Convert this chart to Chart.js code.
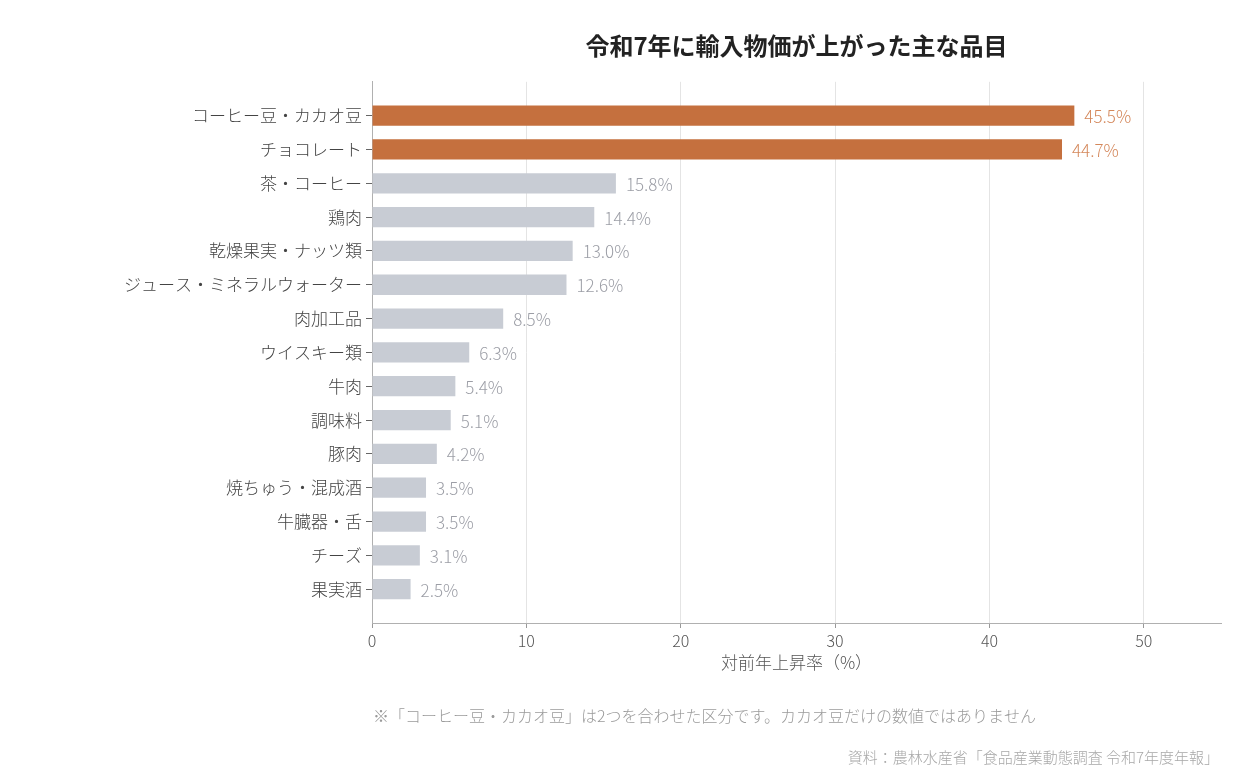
<!DOCTYPE html>
<html lang="ja">
<head>
<meta charset="utf-8">
<script src="https://cdn.jsdelivr.net/npm/chart.js@4"></script>
<style>
  html,body{margin:0;padding:0;background:#fff;}
  #wrap{width:1240px;height:780px;position:relative;}
</style>
</head>
<body>
<div id="wrap"><canvas id="c" width="1240" height="780"></canvas></div>
<script>
// ---- data ----
const categories = [
  'コーヒー豆・カカオ豆','チョコレート','茶・コーヒー','鶏肉','乾燥果実・ナッツ類',
  'ジュース・ミネラルウォーター','肉加工品','ウイスキー類','牛肉','調味料',
  '豚肉','焼ちゅう・混成酒','牛臓器・舌','チーズ','果実酒'
];
const values = [45.5, 44.7, 15.8, 14.4, 13.0, 12.6, 8.5, 6.3, 5.4, 5.1, 4.2, 3.5, 3.5, 3.1, 2.5];
const highlighted = [true, true, false, false, false, false, false, false, false, false, false, false, false, false, false];
const xTicks = [0, 10, 20, 30, 40, 50];
const titleText = '令和7年に輸入物価が上がった主な品目';
const xAxisTitle = '対前年上昇率（%）';
const noteText = '※「コーヒー豆・カカオ豆」は2つを合わせた区分です。カカオ豆だけの数値ではありません';
const sourceText = '資料：農林水産省「食品産業動態調査 令和7年度年報」';

// ---- styles ----
const FONT = "'Noto Sans CJK JP','Noto Sans',sans-serif";
const ORANGE = '#c5703e';
const GRAY = '#c8ccd4';
const ORANGE_LABEL = '#d4875a';
const GRAY_LABEL = '#9c9ea6';

// pad the category axis with a blank slot at each end (matches the reference's axis margins)
const labels = [''].concat(categories, ['']);
const data = [null].concat(values, [null]);
const colors = [GRAY].concat(highlighted.map(h => h ? ORANGE : GRAY), [GRAY]);
const labelColors = [GRAY_LABEL].concat(highlighted.map(h => h ? ORANGE_LABEL : GRAY_LABEL), [GRAY_LABEL]);

const valueLabels = {
  id: 'valueLabels',
  afterDatasetsDraw(chart) {
    const ctx = chart.ctx;
    const meta = chart.getDatasetMeta(0);
    ctx.save();
    ctx.font = "300 17px " + FONT;
    ctx.textAlign = 'left';
    ctx.textBaseline = 'middle';
    meta.data.forEach((el, i) => {
      const v = data[i];
      if (v === null || v === undefined) return;
      ctx.fillStyle = labelColors[i];
      ctx.fillText(v.toFixed(1) + '%', el.x + 10, el.y + 1);
    });
    ctx.restore();
  }
};

const notes = {
  id: 'notes',
  afterDraw(chart) {
    const ctx = chart.ctx;
    const area = chart.chartArea;
    ctx.save();
    ctx.textBaseline = 'middle';
    ctx.font = "300 16px " + FONT;
    ctx.fillStyle = '#9a9a9a';
    ctx.textAlign = 'left';
    ctx.fillText(noteText, area.left + 1, 716);
    ctx.font = "300 15px " + FONT;
    ctx.fillStyle = '#a8a8a8';
    ctx.textAlign = 'right';
    ctx.fillText(sourceText, 1219, 757);
    ctx.restore();
  }
};

new Chart(document.getElementById('c'), {
  type: 'bar',
  data: {
    labels: labels,
    datasets: [{
      data: data,
      backgroundColor: colors,
      borderWidth: 0,
      barPercentage: 0.6,
      categoryPercentage: 1.0
    }]
  },
  options: {
    indexAxis: 'y',
    responsive: false,
    animation: false,
    devicePixelRatio: 1,
    layout: { padding: { left: 0, right: 19, top: 31, bottom: 107 } },
    plugins: {
      legend: { display: false },
      tooltip: { enabled: false },
      title: {
        display: true,
        text: titleText,
        fullSize: false,
        color: '#222',
        font: { family: FONT, size: 24, weight: 'bold', lineHeight: 1.2 },
        padding: { top: 0, bottom: 22 }
      }
    },
    scales: {
      x: {
        type: 'linear',
        min: 0,
        max: 55,
        afterBuildTicks(scale) { scale.ticks = xTicks.map(v => ({ value: v })); },
        afterFit(scale) { scale.height = 50; },
        grid: {
          color: ctx => (ctx.tick && ctx.tick.value === 0) ? 'rgba(0,0,0,0)' : '#e4e4e4',
          tickColor: '#999',
          tickLength: 5,
          lineWidth: 1
        },
        border: { display: true, color: '#b0b0b0', width: 1 },
        ticks: {
          color: '#555',
          padding: 3,
          font: { family: FONT, size: 16, weight: '300' }
        },
        title: {
          display: true,
          text: xAxisTitle,
          color: '#555',
          padding: { top: 0, bottom: 0 },
          font: { family: FONT, size: 17, weight: '300', lineHeight: 1.2 }
        }
      },
      y: {
        type: 'category',
        offset: false,
        afterFit(scale) { scale.width = 372; },
        grid: {
          offset: false,
          drawOnChartArea: false,
          tickLength: 6,
          tickColor: ctx => (ctx.index === 0 || ctx.index === labels.length - 1) ? 'rgba(0,0,0,0)' : '#666'
        },
        border: { display: true, color: '#b0b0b0', width: 1 },
        ticks: {
          color: '#444',
          padding: 4,
          autoSkip: false,
          font: { family: FONT, size: 17, weight: '300' }
        }
      }
    }
  },
  plugins: [valueLabels, notes]
});
</script>
</body>
</html>
